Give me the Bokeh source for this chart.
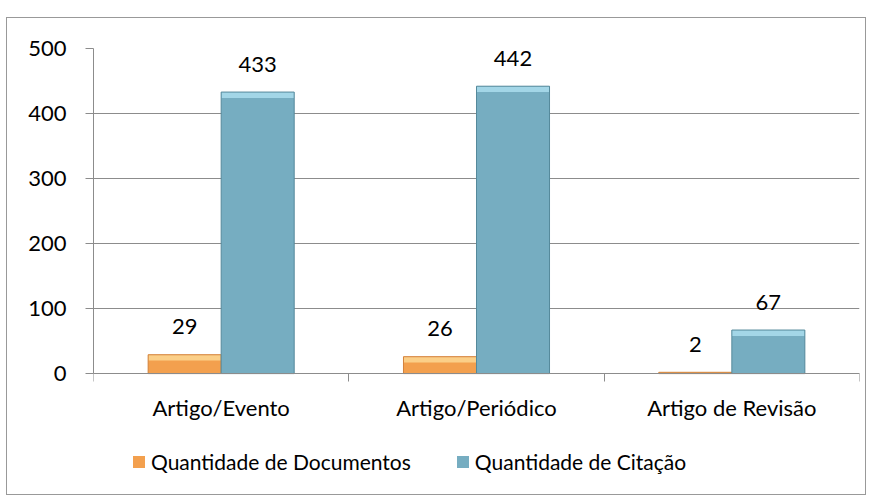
from bokeh.plotting import figure
from bokeh.models import (ColumnDataSource, Range1d, FixedTicker, Legend, LegendItem, LabelSet)
from bokeh.core.properties import value
from bokeh.embed import file_html
from bokeh.resources import INLINE

categories = ["Artigo/Evento", "Artigo/Periódico", "Artigo de Revisão"]
documentos = [29, 26, 2]
citacao = [433, 442, 67]
series_names = ["Quantidade de Documentos", "Quantidade de Citação"]
y_ticks = [0, 100, 200, 300, 400, 500]

FONT = "Lato"
GRID = "#8c8c8c"
Y_MAX = 500
Y_MIN = -189          # room below the axis (inside the frame) for labels and legend
BEVEL = 9             # depth of the light top bevel, in value units

idx = list(range(len(categories)))
src = ColumnDataSource(dict(
    x_doc=[i + 0.357 for i in idx],
    x_cit=[i + 0.643 for i in idx],
    doc=documentos,
    cit=citacao,
    doc_bev=[max(v - BEVEL, 0) for v in documentos],
    cit_bev=[max(v - BEVEL, 0) for v in citacao],
    doc_lbl=[str(v) for v in documentos],
    cit_lbl=[str(v) for v in citacao],
))

p = figure(width=860, height=478, output_backend="svg", toolbar_location=None,
           x_range=Range1d(0, len(categories)), y_range=Range1d(Y_MIN, Y_MAX),
           min_border_left=86, min_border_right=8, min_border_top=30, min_border_bottom=0,
           margin=(17, 0, 0, 6))
p.styles = {"border": "1px solid #999999"}
p.outline_line_color = None
p.background_fill_color = "white"
p.border_fill_color = "white"

W = 0.286
r_doc = p.vbar(x="x_doc", top="doc", bottom=0, width=W, source=src,
               fill_color="#F3A04E", line_color=None)
p.vbar(x="x_doc", top="doc", bottom="doc_bev", width=W, source=src,
       fill_color="#FBCF88", line_color=None)
p.vbar(x="x_doc", top="doc", bottom=0, width=W, source=src,
       fill_color=None, line_color="#D3813A", line_width=1)
r_cit = p.vbar(x="x_cit", top="cit", bottom=0, width=W, source=src,
               fill_color="#76ADC1", line_color=None)
p.vbar(x="x_cit", top="cit", bottom="cit_bev", width=W, source=src,
       fill_color="#A3D6E7", line_color=None)
p.vbar(x="x_cit", top="cit", bottom=0, width=W, source=src,
       fill_color=None, line_color="#55899B", line_width=1)

for col, xcol in (("doc", "x_doc"), ("cit", "x_cit")):
    lbl = LabelSet(x=xcol, y=col, text=col + "_lbl", source=src, y_offset=28,
                   text_align="center", text_baseline="middle",
                   text_font=value(FONT), text_font_size="22px", text_color="black")
    p.add_layout(lbl)

# grid
p.xgrid.grid_line_color = None
p.ygrid.grid_line_color = GRID
p.ygrid.ticker = FixedTicker(ticks=y_ticks)

yax = p.yaxis[0]
yax.ticker = FixedTicker(ticks=y_ticks)
yax.bounds = (0, Y_MAX)
yax.axis_line_color = GRID
yax.major_tick_line_color = GRID
yax.major_tick_out = 8
yax.major_tick_in = 0
yax.minor_tick_line_color = None
yax.major_label_text_font = FONT
yax.major_label_text_font_size = "22px"
yax.major_label_text_color = "black"
yax.major_label_standoff = 19

xax = p.xaxis[0]
xax.fixed_location = 0
xax.ticker = FixedTicker(ticks=[i + 0.5 for i in idx], minor_ticks=list(range(len(categories) + 1)))
xax.major_label_overrides = {i + 0.5: c for i, c in zip(idx, categories)}
xax.axis_line_color = GRID
xax.major_tick_line_color = None
xax.major_tick_out = 0
xax.major_tick_in = 0
xax.minor_tick_line_color = GRID
xax.minor_tick_out = 8
xax.minor_tick_in = 0
xax.major_label_text_font = FONT
xax.major_label_text_font_size = "22px"
xax.major_label_text_color = "black"
xax.major_label_standoff = 12

legend = Legend(items=[LegendItem(label=series_names[0], renderers=[r_doc]),
                       LegendItem(label=series_names[1], renderers=[r_cit])],
                orientation="horizontal", location=(38, 22),
                label_text_font=FONT, label_text_font_size="21px", label_text_color="black",
                glyph_width=15, glyph_height=15, label_standoff=5, spacing=44,
                padding=0, margin=0,
                border_line_color=None, background_fill_alpha=0)
p.add_layout(legend)

open("out.html", "w").write(file_html(p, INLINE))
